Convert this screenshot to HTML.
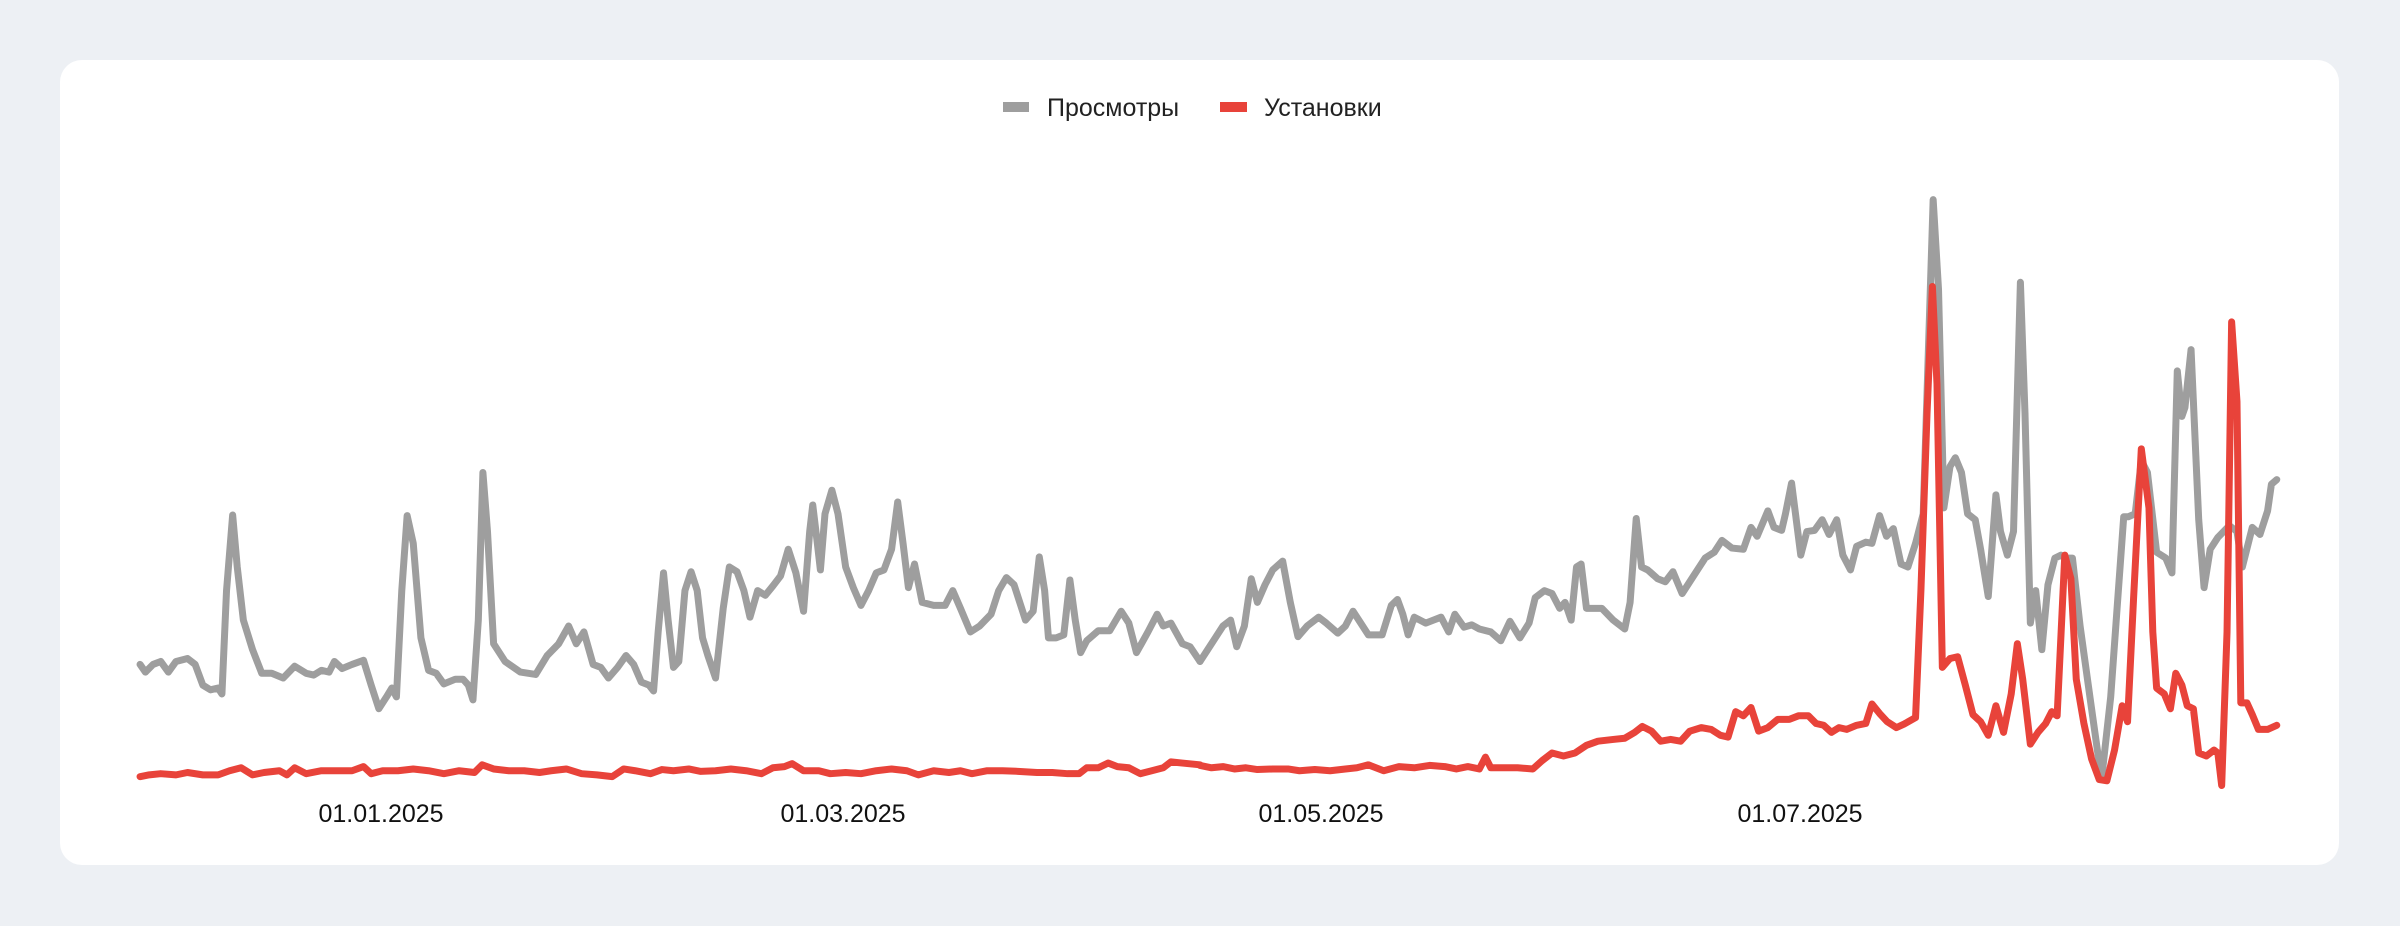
<!DOCTYPE html>
<html><head><meta charset="utf-8"><style>
html,body{margin:0;padding:0;background:#edf0f4;}
body{width:2400px;height:926px;position:relative;overflow:hidden;font-family:"Liberation Sans",sans-serif;}
.card{position:absolute;left:60px;top:60px;width:2279px;height:805px;background:#fff;border-radius:22px;}
svg{position:absolute;left:0;top:0;}
</style></head><body>
<div class="card"></div>
<svg width="2400" height="926" viewBox="0 0 2400 926">
<rect x="1003" y="102" width="26" height="10" fill="#9e9e9e"/>
<text x="1047" y="116" font-size="25" fill="#222" font-family="Liberation Sans, sans-serif">Просмотры</text>
<rect x="1220" y="102" width="27" height="10" fill="#e8433a"/>
<text x="1264" y="116" font-size="25" fill="#222" font-family="Liberation Sans, sans-serif">Установки</text>
<g font-size="25" fill="#111" text-anchor="middle" font-family="Liberation Sans, sans-serif">
<text x="381" y="822">01.01.2025</text>
<text x="843" y="822">01.03.2025</text>
<text x="1321" y="822">01.05.2025</text>
<text x="1800" y="822">01.07.2025</text>
</g>
<g fill="none" stroke-width="7" stroke-linejoin="round" stroke-linecap="round">
<g transform="scale(0.7653,0.5906)">
<polyline vector-effect="non-scaling-stroke" stroke="#9e9e9e" points="183,1125 190,1138 200,1125 210,1120 220,1138 230,1120 245,1115 255,1125 265,1160 275,1168 285,1165 290,1175 296,1000 304,872 310,960 318,1050 330,1100 342,1140 355,1140 370,1148 385,1128 400,1140 410,1143 420,1135 430,1138 437,1120 447,1132 460,1125 475,1118 485,1160 495,1200 505,1180 512,1165 518,1180 525,1000 532,873 540,920 550,1080 560,1135 570,1140 580,1158 595,1150 605,1150 612,1160 618,1185 625,1050 631,800 637,900 645,1090 660,1120 680,1138 700,1142 715,1110 730,1090 743,1060 753,1090 763,1070 775,1125 785,1130 795,1148 807,1130 818,1110 828,1125 838,1155 848,1160 854,1170 860,1070 867,970 873,1050 880,1130 887,1120 895,1000 903,968 911,1000 918,1080 925,1110 935,1148 945,1030 953,960 963,968 972,1000 980,1045 990,1000 1000,1008 1010,992 1020,975 1030,930 1040,970 1050,1035 1058,900 1062,855 1068,920 1072,965 1078,870 1087,830 1095,870 1105,960 1115,995 1125,1025 1135,1000 1145,970 1155,965 1165,930 1173,850 1180,920 1187,995 1195,955 1205,1020 1220,1025 1235,1025 1245,1000 1255,1030 1268,1070 1280,1060 1295,1040 1305,1000 1315,978 1325,990 1340,1050 1350,1035 1358,943 1365,1000 1370,1080 1380,1080 1390,1075 1398,982 1405,1050 1412,1105 1420,1085 1435,1068 1450,1068 1465,1035 1475,1055 1485,1105 1500,1070 1512,1040 1520,1060 1530,1055 1545,1090 1555,1095 1568,1120"/>
<polyline vector-effect="non-scaling-stroke" stroke="#e8433a" points="183,1315 195,1312 210,1310 230,1312 245,1308 265,1312 285,1312 300,1305 315,1300 330,1312 345,1308 365,1305 375,1312 385,1300 400,1310 420,1305 440,1305 460,1305 475,1298 485,1310 500,1305 520,1305 540,1302 560,1305 580,1310 600,1305 620,1308 630,1295 645,1302 665,1305 685,1305 705,1308 720,1305 740,1302 760,1310 780,1312 800,1315 815,1302 830,1305 850,1310 865,1303 880,1305 900,1302 915,1306 935,1305 955,1302 975,1305 995,1310 1010,1300 1025,1298 1035,1293 1050,1305 1070,1305 1085,1310 1105,1308 1125,1310 1145,1305 1165,1302 1185,1305 1200,1312 1220,1305 1240,1308 1255,1305 1270,1310 1290,1305 1310,1305 1330,1306 1355,1308 1375,1308 1395,1310 1410,1310 1420,1300 1435,1300 1448,1292 1460,1298 1475,1300 1490,1310 1505,1305 1520,1300 1530,1290 1545,1292 1568,1295"/>
</g>
<g transform="translate(1200,0) scale(0.7653,0.5906)">
<polyline vector-effect="non-scaling-stroke" stroke="#9e9e9e" points="0,1120 10,1100 20,1080 30,1060 40,1050 48,1095 58,1060 67,980 75,1020 85,990 95,965 108,950 118,1020 128,1078 140,1060 155,1045 165,1055 180,1072 190,1060 200,1035 210,1055 220,1075 238,1075 250,1025 258,1015 265,1040 272,1075 280,1045 295,1055 305,1050 315,1045 325,1070 333,1040 345,1062 355,1058 365,1065 380,1070 393,1085 405,1052 418,1080 430,1055 438,1012 450,1000 460,1005 470,1030 477,1020 485,1050 492,960 498,955 505,1030 515,1030 525,1030 540,1050 555,1065 562,1020 570,878 577,960 585,965 598,980 608,985 618,968 630,1005 645,975 660,945 672,935 682,915 695,928 710,930 720,893 728,908 742,865 750,893 760,898 765,870 773,818 785,940 793,900 803,898 813,880 822,905 832,880 840,940 850,965 858,925 870,918 878,920 888,873 897,908 906,895 916,955 925,960 935,920 945,870 958,338 965,490 972,860 980,790 987,775 995,800 1003,870 1013,880 1020,930 1030,1010 1040,838 1046,900 1055,940 1063,900 1072,478 1078,700 1085,1055 1092,1000 1100,1100 1108,990 1117,945 1125,940 1133,945 1140,945 1150,1060 1165,1200 1178,1320 1190,1180 1200,1000 1207,875 1213,875 1222,870 1230,780 1238,800 1250,935 1262,945 1270,970 1277,628 1283,705 1287,690 1295,592 1305,880 1312,995 1320,930 1330,910 1345,890 1355,900 1362,960 1375,893 1385,905 1395,865 1400,820 1407,812"/>
<polyline vector-effect="non-scaling-stroke" stroke="#e8433a" points="0,1296 15,1300 30,1298 45,1302 60,1300 75,1303 95,1302 115,1302 130,1305 150,1303 170,1305 190,1302 205,1300 220,1295 240,1305 260,1298 280,1300 300,1296 320,1298 335,1302 350,1298 365,1302 373,1282 380,1300 395,1300 415,1300 435,1302 447,1288 460,1275 475,1280 490,1275 505,1262 520,1255 540,1252 555,1250 568,1240 578,1230 590,1238 602,1255 615,1252 628,1255 640,1238 655,1232 668,1235 680,1245 690,1248 700,1205 710,1212 720,1198 730,1238 742,1232 755,1218 770,1218 782,1212 795,1212 805,1225 815,1228 825,1240 835,1232 845,1235 858,1228 870,1225 878,1192 888,1208 898,1222 910,1232 920,1226 935,1215 942,1000 950,700 957,485 963,650 970,1130 980,1115 990,1112 1000,1160 1010,1210 1020,1222 1030,1245 1040,1195 1050,1240 1060,1175 1068,1090 1075,1150 1085,1260 1095,1240 1105,1225 1113,1205 1120,1212 1130,940 1138,980 1145,1150 1155,1225 1165,1285 1175,1320 1185,1322 1195,1270 1205,1195 1212,1222 1220,1010 1230,760 1240,860 1245,1070 1250,1165 1260,1175 1268,1200 1275,1140 1283,1160 1290,1195 1298,1200 1305,1275 1315,1280 1325,1270 1330,1275 1335,1330 1342,1070 1348,545 1355,680 1360,1190 1368,1190 1375,1210 1383,1235 1395,1235 1407,1228"/>
</g>
</g>
</svg>
</body></html>
